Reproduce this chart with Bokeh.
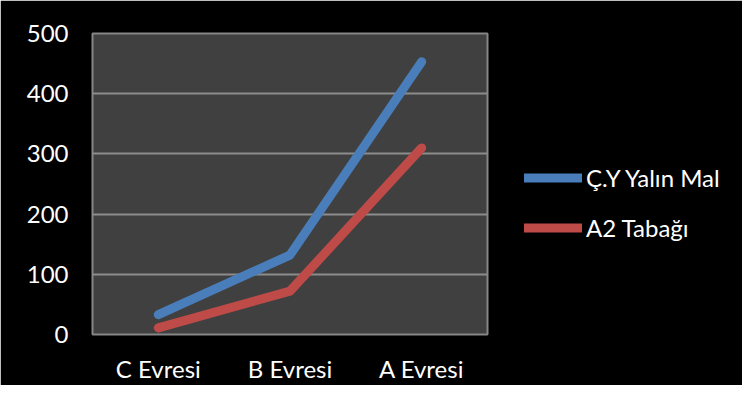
from bokeh.plotting import figure
from bokeh.models import Legend, LegendItem, FactorRange, Range1d
from bokeh.embed import file_html
from bokeh.resources import INLINE

categories = ["C Evresi", "B Evresi", "A Evresi"]
series_names = ["Ç.Y Yalın Mal", "A2 Tabağı"]
cy_yalin_mal = [33, 132, 453]
a2_tabagi = [11, 72, 310]
y_ticks = [0, 100, 200, 300, 400, 500]

p = figure(x_range=FactorRange(*categories, range_padding=0), y_range=Range1d(0, 500),
           frame_width=395, frame_height=301,
           output_backend="svg", toolbar_location=None,
           background_fill_color="#404040", border_fill_color="#000000",
           min_border_left=92, min_border_top=33, min_border_bottom=51, min_border_right=239)
p.x_range.factor_padding = 0
p.outline_line_color = "#868686"
p.outline_line_width = 2

r1 = p.line(categories, cy_yalin_mal, line_color="#4A7EBB", line_width=9, line_cap="round", line_join="round")
r2 = p.line(categories, a2_tabagi, line_color="#BE4B48", line_width=9, line_cap="round", line_join="round")

p.xgrid.grid_line_color = None
p.ygrid.grid_line_color = "#8C8C8C"
p.ygrid.grid_line_width = 2
p.yaxis.ticker = y_ticks

for ax in (p.xaxis[0], p.yaxis[0]):
    ax.axis_line_color = None
    ax.major_tick_line_color = None
    ax.minor_tick_line_color = None
    ax.major_label_text_color = "#FFFFFF"
    ax.major_label_text_font = "Lato"
    ax.major_label_text_font_size = "24px"
p.yaxis.major_label_standoff = 18
p.xaxis.major_label_standoff = 13

legend = Legend(items=[LegendItem(label=series_names[0], renderers=[r1]),
                       LegendItem(label=series_names[1], renderers=[r2])],
                location=(37, 92), orientation="vertical",
                glyph_width=58, glyph_height=29, label_standoff=4, spacing=21,
                padding=0, margin=0,
                background_fill_alpha=0, border_line_color=None,
                label_text_color="#FFFFFF", label_text_font="Lato", label_text_font_size="24px",
                label_height=29)
p.add_layout(legend, "right")

open("out.html", "w").write(file_html(p, INLINE))
